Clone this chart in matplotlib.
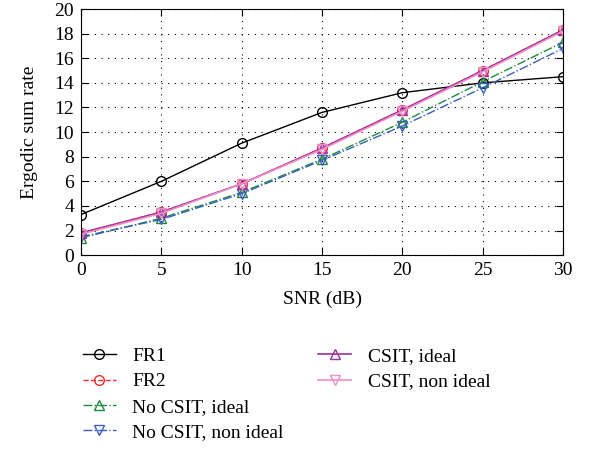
import matplotlib
matplotlib.use("Agg")
import matplotlib.pyplot as plt

plt.rcParams['font.family'] = ['Liberation Serif', 'DejaVu Serif']

snr = [0, 5, 10, 15, 20, 25, 30]
fr1 = [3.3, 6.0, 9.1, 11.6, 13.2, 14.0, 14.5]
fr2 = [1.8, 3.5, 5.8, 8.7, 11.8, 15.0, 18.3]
nocsit_ideal = [1.4, 3.0, 5.1, 7.8, 10.8, 14.1, 17.3]
nocsit_nonideal = [1.5, 2.9, 5.0, 7.7, 10.5, 13.6, 16.8]
csit_ideal = [1.8, 3.5, 5.8, 8.7, 11.8, 15.0, 18.3]
csit_nonideal = [1.7, 3.4, 5.8, 8.6, 11.7, 14.9, 18.2]

fig = plt.figure(figsize=(6.14, 4.5), dpi=100)
ax = fig.add_axes([0.132, 0.433, 0.785, 0.547])

ms = 7
l1, = ax.plot(snr, fr1, '-', color='black', marker='o', mfc='none', ms=ms, lw=1, label='FR1')
l2, = ax.plot(snr, fr2, '--', color='#ee2b2b', marker='o', mfc='none', ms=ms, lw=1, label='FR2')
l3, = ax.plot(snr, nocsit_ideal, '-.', color='#1e8a3c', marker='^', mfc='none', ms=ms, lw=1, label='No CSIT, ideal')
l4, = ax.plot(snr, nocsit_nonideal, '-.', color='#3a5fc0', marker='v', mfc='none', ms=ms, lw=1, label='No CSIT, non ideal')
l5, = ax.plot(snr, csit_ideal, '-', color='#a0309a', marker='^', mfc='none', ms=ms, lw=1.2, label='CSIT, ideal')
l6, = ax.plot(snr, csit_nonideal, '-', color='#f08cc8', marker='v', mfc='none', ms=ms, lw=1.2, label='CSIT, non ideal')

ax.set_xlim(0, 30)
ax.set_ylim(0, 20)
ax.set_xticks(snr)
ax.set_yticks(range(0, 21, 2))
ax.tick_params(direction='in', top=True, right=True, labelsize=14, length=5, pad=5)
ax.grid(True, linestyle=(0, (1, 5)), color='black', lw=0.8)
ax.set_xlabel('SNR (dB)', fontsize=14, labelpad=8)
ax.set_ylabel('Ergodic sum rate', fontsize=14, labelpad=12)

# legend: 4 entries left, 2 right
kw = dict(loc='upper left', frameon=False, fontsize=14, handlelength=1.7,
          labelspacing=0.4, borderpad=0, borderaxespad=0, handletextpad=0.85)
fig.legend(handles=[l1, l2, l3, l4], bbox_to_anchor=(0.135, 0.228), **kw)
fig.legend(handles=[l5, l6], bbox_to_anchor=(0.518, 0.228), **kw)

fig.savefig('out.png', dpi=100)
